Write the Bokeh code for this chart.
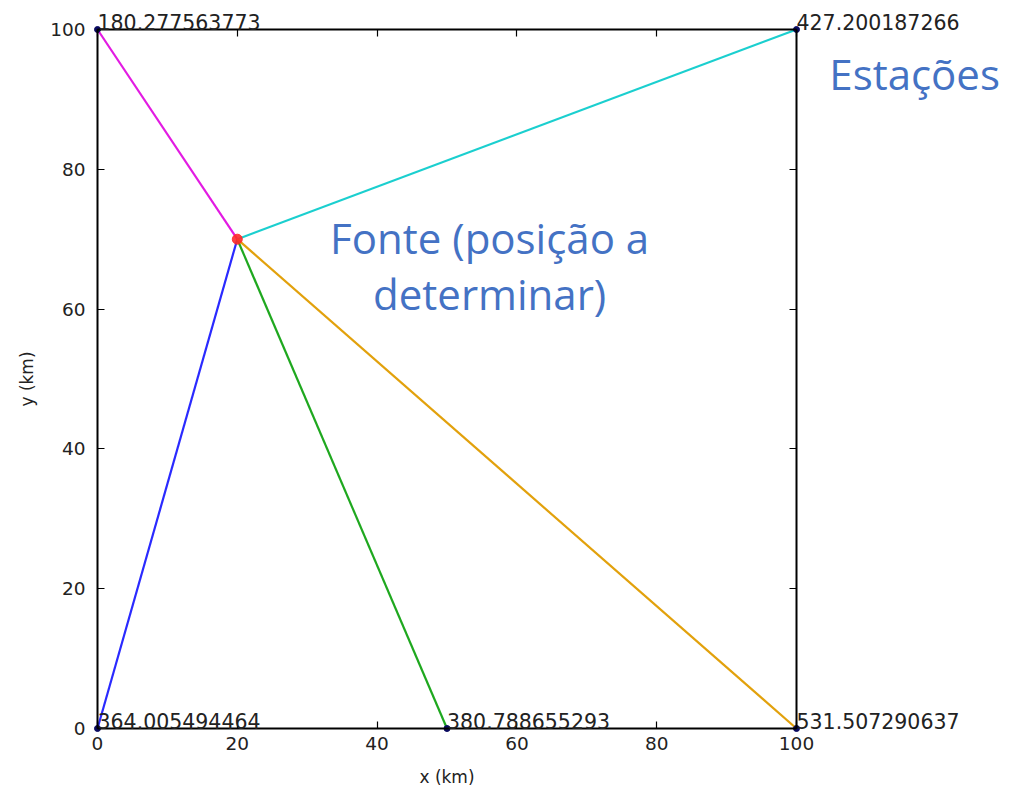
from bokeh.plotting import figure
from bokeh.models import Range1d, LinearAxis, FixedTicker, ColumnDataSource, LabelSet, Label
from bokeh.core.properties import value
from bokeh.embed import file_html
from bokeh.resources import INLINE

# Data
station_x = [0, 100, 0, 50, 100]
station_y = [100, 100, 0, 0, 0]
station_labels = ["180.277563773", "427.200187266", "364.005494464", "380.788655293", "531.507290637"]
line_colors = ["#e21be2", "#1bcfcf", "#2a2aff", "#1fa81f", "#e2a10c"]
source_x = 20
source_y = 70
ticks = [0, 20, 40, 60, 80, 100]
annot_fonte = ["Fonte (posição a", "determinar)"]
annot_est = "Estações"

W, H = 1010, 791
scale = 6.99
x0_px, y0_px = 97, 728
xr = Range1d(-x0_px / scale, (W - x0_px) / scale)
yr = Range1d(-(H - y0_px) / scale, y0_px / scale)

p = figure(width=W, height=H, x_range=xr, y_range=yr,
           output_backend="svg", toolbar_location=None,
           x_axis_location=None, y_axis_location=None,
           min_border=0, min_border_left=0, min_border_right=0, min_border_top=0, min_border_bottom=0)
p.xgrid.visible = False
p.ygrid.visible = False
p.outline_line_color = None
p.background_fill_color = "white"
p.border_fill_color = "white"


def style(ax, tin, tout, show_labels):
    ax.ticker = FixedTicker(ticks=ticks)
    ax.bounds = (0, 100)
    ax.major_tick_in = tin
    ax.major_tick_out = tout
    ax.major_tick_line_width = 1.2
    ax.minor_tick_line_color = None
    ax.axis_line_width = 2
    ax.axis_line_color = "black"
    if show_labels:
        ax.major_label_text_font = "DejaVu Sans"
        ax.major_label_text_font_size = "18.5px"
        ax.major_label_text_color = "#222222"
        ax.axis_label_text_font = "DejaVu Sans"
        ax.axis_label_text_font_size = "17px"
        ax.axis_label_text_font_style = "normal"
        ax.axis_label_text_color = "#222222"
    else:
        ax.major_label_text_color = None


bottom = LinearAxis(fixed_location=0, axis_label="x (km)")
style(bottom, 7, 0, True)
bottom.major_label_standoff = 8
bottom.axis_label_standoff = 14
p.add_layout(bottom, "below")

left = LinearAxis(fixed_location=0, axis_label="y (km)")
style(left, 7, 0, True)
left.major_label_standoff = 12
left.axis_label_standoff = 10
p.add_layout(left, "left")

top = LinearAxis(fixed_location=100)
style(top, 0, 7, False)
p.add_layout(top, "below")

right = LinearAxis(fixed_location=100)
style(right, 0, 7, False)
p.add_layout(right, "left")

seg = ColumnDataSource(dict(x0=[source_x] * len(station_x), y0=[source_y] * len(station_x),
                            x1=station_x, y1=station_y, color=line_colors))
p.segment(x0="x0", y0="y0", x1="x1", y1="y1", color="color", line_width=2.2, source=seg)

st = ColumnDataSource(dict(x=station_x, y=station_y, label=station_labels))
p.scatter(x="x", y="y", source=st, size=6, color="#0a0a60")
p.scatter(x=[source_x], y=[source_y], size=10, color="#ff2a2a", alpha=0.9)

labels = LabelSet(x="x", y="y", text="label", source=st, text_align="left", text_baseline="alphabetic",
                  text_font=value("DejaVu Sans"), text_font_size="20.5px", text_color="#222222")
p.add_layout(labels)

p.add_layout(Label(x=56.1, y=70.3, text=annot_fonte[0], text_align="center", text_baseline="middle",
                   text_font="Open Sans", text_font_size="42px", text_color="#4472c4"))
p.add_layout(Label(x=56.1, y=62.2, text=annot_fonte[1], text_align="center", text_baseline="middle",
                   text_font="Open Sans", text_font_size="42px", text_color="#4472c4"))
p.add_layout(Label(x=116.9, y=93.7, text=annot_est, text_align="center", text_baseline="middle",
                   text_font="Open Sans", text_font_size="42px", text_color="#4472c4"))

open("out.html", "w").write(file_html(p, INLINE))
